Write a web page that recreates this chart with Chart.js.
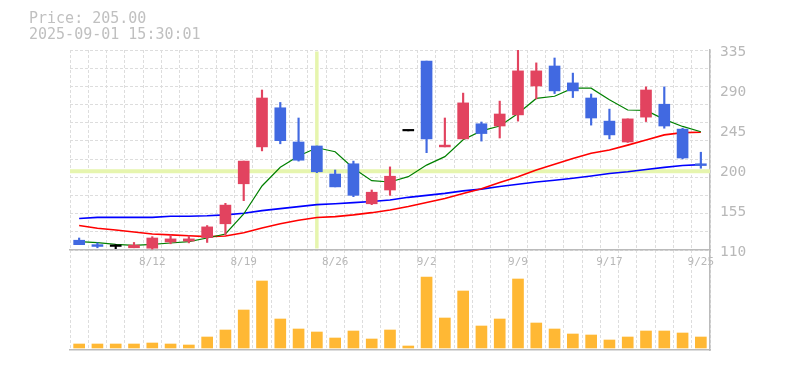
<!DOCTYPE html>
<html>
<head>
<meta charset="utf-8">
<script src="https://cdn.jsdelivr.net/npm/chart.js@4.4.1/dist/chart.umd.min.js"></script>
<style>
  body { margin: 0; background: #fff; }
  #wrap { position: relative; width: 785px; height: 370px; }
  #info {
    position: absolute; left: 29px; top: 10px;
    font: 15px/16px "DejaVu Sans Mono", monospace;
    color: #c0c0c0; white-space: pre;
  }
</style>
</head>
<body>
<div id="wrap">
  <canvas id="chart" width="785" height="370"></canvas>
  <div id="info"></div>
</div>
<script>
// daily candles, 2025-08-05 .. 2025-09-25
const dates = [
  "8/5", "8/6", "8/7", "8/8", "8/12", "8/13", "8/14", "8/15", "8/18", "8/19",
  "8/20", "8/21", "8/22", "8/25", "8/26", "8/27", "8/28", "8/29", "9/1", "9/2",
  "9/3", "9/4", "9/5", "9/8", "9/9", "9/10", "9/11", "9/12", "9/16", "9/17",
  "9/18", "9/19", "9/22", "9/24", "9/25",
];
const tickDates = ["8/12", "8/19", "8/26", "9/2", "9/9", "9/17", "9/25"];

const open = [
  121, 116, 114, 112.5, 112, 119, 120, 124, 139.5, 184.5,
  226, 270, 231.5, 227, 195.5, 207, 162, 177.5, 244, 322.5,
  226, 235, 252, 249.5, 262, 294.5, 317, 298, 281, 255,
  231.5, 259.5, 274, 246, 207,
];
const high = [
  123.5, 118, 116, 118.5, 125, 127, 126, 137.5, 162.5, 210,
  290, 276, 258.5, 227, 200, 210, 177.5, 203.5, 244, 322.5,
  258.5, 286.5, 254, 277.5, 335, 320.5, 326, 309, 285.5, 268.5,
  257.5, 293.5, 293.5, 247, 220,
];
const low = [
  116, 112.5, 111.5, 112.5, 111, 117, 118, 118.5, 127, 165.5,
  221.5, 229.5, 210, 197, 181, 170, 161, 171.5, 244, 219.5,
  226, 235, 232.5, 236, 255, 280, 286, 281.5, 250.5, 235,
  231, 254.5, 247, 212.5, 202,
];
const close = [
  116, 114, 114, 115.5, 123.5, 122.5, 122.5, 136, 160.5, 210,
  281, 233, 211, 198, 181, 171.5, 175, 193, 244, 235,
  228, 275.5, 241, 263, 311.5, 311.5, 289, 289, 258.5, 239.5,
  257.5, 290, 249.5, 213.5, 205,
];
const volume = [
  40, 40, 40, 40, 50, 40, 30, 110, 180, 380,
  670, 290, 190, 160, 100, 170, 90, 180, 20, 710,
  300, 570, 220, 290, 690, 250, 190, 140, 130, 80,
  110, 170, 170, 150, 110,
];

// moving averages as drawn
const ma5 = [
  119.4, 118.3, 116.4, 115.3, 116.4, 117.9, 119.4, 123.5, 128, 150.5,
  182, 203, 215.75, 225, 220.5, 202, 188, 186.5, 192.5, 205.5,
  215, 234, 244, 249.5, 263.5, 280.5, 283, 292, 292, 279,
  267.5, 267, 257, 249, 243,
];
const ma25 = [
  137.5, 134.5, 132.5, 130.25, 128, 127, 126, 125, 125.75, 129.5,
  134.75, 139.5, 143.5, 146.5, 147.5, 149.5, 152, 155, 159, 163.5,
  168, 173.5, 179, 186, 192.5, 200, 206.5, 213, 218.75, 222.5,
  228, 233.75, 239.5, 242, 242.5,
];
const ma75 = [
  145.5, 146.75, 146.75, 146.75, 146.75, 148, 148, 148.5, 149.5, 151.3,
  154.25, 156.5, 158.75, 161, 162, 163.25, 164.5, 166.25, 169.25, 171.5,
  173.75, 176.5, 178.5, 181.5, 184, 186.5, 188.5, 190.75, 193.25, 196,
  198, 200.5, 203, 205, 206,
];

const priceTicks = [110, 155, 200, 245, 290, 335];
const priceMin = 110;
const priceMax = 335;
const gridSteps = 11;

// cursor state shown in the header
const cursorIndex = 13;
const cursorPrice = 198.5;
const cursorLabel = "Price: 205.00";
const cursorTime = "2025-09-01 15:30:01";

const colors = {
  up: "#E2435F",
  down: "#4169E1",
  flat: "#000000",
  volume: "#FFB834",
  ma5: "#008000",
  ma25: "#FF0000",
  ma75: "#0000FF",
  grid: "#dddddd",
  axis: "#bbbbbb",
  text: "#b8b8b8",
  cursor: "#E6F5AE",
};

document.getElementById("info").textContent = cursorLabel + "\n" + cursorTime;

const candleColor = close.map((c, i) =>
  c > open[i] ? colors.up : c < open[i] ? colors.down : colors.flat
);

const gridVals = [];
for (let i = 1; i < gridSteps; i++) {
  gridVals.push(priceMin + (i * (priceMax - priceMin)) / gridSteps);
}

const crosshair = {
  id: "crosshair",
  beforeDatasetsDraw(chart) {
    const { ctx, chartArea, scales } = chart;
    const x = scales.x.getPixelForValue(cursorIndex);
    const y = scales.y.getPixelForValue(cursorPrice);
    ctx.save();
    ctx.strokeStyle = colors.cursor;
    ctx.lineWidth = 4;
    ctx.beginPath();
    ctx.moveTo(chartArea.left, y);
    ctx.lineTo(chartArea.right, y);
    ctx.stroke();
    ctx.lineWidth = 3.5;
    ctx.beginPath();
    ctx.moveTo(x, scales.y.top + 1.5);
    ctx.lineTo(x, scales.y.bottom - 1.5);
    ctx.stroke();
    ctx.restore();
  },
};

Chart.defaults.font.family = "'DejaVu Sans Mono', monospace";

new Chart(document.getElementById("chart"), {
  type: "bar",
  data: {
    labels: dates,
    datasets: [
      {
        label: "body",
        data: open.map((o, i) => [o, close[i]]),
        backgroundColor: candleColor,
        barThickness: 11,
        minBarLength: 1.5,
        grouped: false,
        yAxisID: "y",
        order: 1,
      },
      {
        label: "wick",
        data: low.map((l, i) => [l, high[i]]),
        backgroundColor: candleColor,
        barThickness: 1.5,
        grouped: false,
        yAxisID: "y",
        order: 2,
      },
      {
        type: "line",
        label: "MA5",
        data: ma5,
        borderColor: colors.ma5,
        borderWidth: 1.2,
        pointRadius: 0,
        tension: 0,
        yAxisID: "y",
        order: 3,
      },
      {
        type: "line",
        label: "MA25",
        data: ma25,
        borderColor: colors.ma25,
        borderWidth: 1.6,
        pointRadius: 0,
        tension: 0,
        yAxisID: "y",
        order: 4,
      },
      {
        type: "line",
        label: "MA75",
        data: ma75,
        borderColor: colors.ma75,
        borderWidth: 1.6,
        pointRadius: 0,
        tension: 0,
        yAxisID: "y",
        order: 5,
      },
      {
        label: "Volume",
        data: volume,
        backgroundColor: colors.volume,
        barThickness: 11,
        grouped: false,
        yAxisID: "yVol",
        order: 6,
      },
    ],
  },
  options: {
    responsive: false,
    devicePixelRatio: 1,
    animation: false,
    events: [],
    layout: { padding: { left: 70, top: 50, right: 0, bottom: 20 } },
    plugins: {
      legend: { display: false },
      tooltip: { enabled: false },
    },
    scales: {
      x: {
        type: "category",
        position: { y: priceMin },
        offset: true,
        grid: { color: colors.grid, offset: true, drawTicks: false, lineWidth: 1 },
        border: { display: true, color: colors.axis, width: 1.5, dash: [3, 2] },
        ticks: {
          autoSkip: false,
          maxRotation: 0,
          padding: 6,
          color: colors.text,
          font: { size: 11 },
          callback: (v, i) => (tickDates.includes(dates[i]) ? dates[i] : ""),
        },
        afterFit: (scale) => { scale.height = 0; },
      },
      x2: {
        type: "category",
        position: "bottom",
        offset: true,
        grid: { display: false },
        ticks: { display: false },
        border: { display: true, color: colors.axis, width: 1.5 },
        afterFit: (scale) => { scale.height = 0; },
      },
      y: {
        position: "right",
        stack: "panes",
        stackWeight: 2,
        min: priceMin,
        max: priceMax,
        grid: {
          drawTicks: false,
          lineWidth: 1,
          color: (c) =>
            priceTicks.includes(c.tick.value) && c.tick.value !== priceMin && c.tick.value !== priceMax
              ? "rgba(0,0,0,0)"
              : colors.grid,
        },
        border: { display: true, color: colors.axis, width: 1.5, dash: [3, 2] },
        ticks: {
          autoSkip: false,
          padding: 10,
          labelOffset: 2.5,
          color: colors.text,
          font: { size: 14.5 },
          callback: (v) => (priceTicks.includes(v) ? String(v) : ""),
        },
        afterBuildTicks: (scale) => {
          scale.ticks = priceTicks
            .concat(gridVals)
            .sort((a, b) => a - b)
            .map((v) => ({ value: v }));
        },
        afterFit: (scale) => { scale.width = 75; },
      },
      yVol: {
        position: "right",
        stack: "panes",
        stackWeight: 1,
        min: -20,
        max: 980,
        grid: { display: false },
        ticks: { display: false },
        border: { display: true, color: colors.axis, width: 1.5 },
        afterFit: (scale) => { scale.width = 75; },
      },
    },
  },
  plugins: [crosshair],
});
</script>
</body>
</html>
